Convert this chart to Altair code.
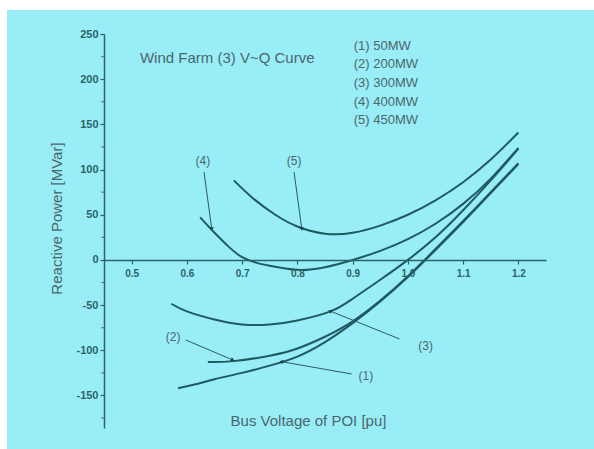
import altair as alt
import pandas as pd

# ---- curve data (bus voltage pu, reactive power MVar) ----
s1_v = [0.584, 0.62, 0.65, 0.70, 0.75, 0.80, 0.85, 0.90, 0.95, 1.00, 1.05, 1.10, 1.15, 1.20]
s1_q = [-142, -137, -132, -125, -117, -107, -91, -70, -46, -19, 11, 42, 74, 106]
s2_v = [0.638, 0.684, 0.75, 0.80, 0.85, 0.90, 0.95, 1.00, 1.05, 1.10, 1.15, 1.20]
s2_q = [-113, -112, -106, -98, -85, -68, -45, -18, 12, 43, 75, 107]
s3_v = [0.572, 0.60, 0.65, 0.70, 0.75, 0.80, 0.86, 0.90, 0.95, 1.00, 1.05, 1.10, 1.15, 1.20]
s3_q = [-48.5, -57, -66, -71.5, -71.5, -67, -57, -43, -22, 0, 25, 55, 88, 123]
s4_v = [0.624, 0.65, 0.675, 0.70, 0.725, 0.75, 0.80, 0.85, 0.90, 0.95, 1.00, 1.05, 1.10, 1.15, 1.20]
s4_q = [47, 30, 15, 3, -3, -6.5, -11, -8, 0, 10, 23, 40, 62, 90, 124]
s5_v = [0.685, 0.72, 0.76, 0.80, 0.85, 0.90, 0.95, 1.00, 1.05, 1.10, 1.15, 1.20]
s5_q = [88, 68, 50, 37, 29, 30, 38, 50, 66, 86, 111, 141]

# ---- text ----
title_text = ["Wind Farm (3) V~Q Curve"]
title_x = [0.515]
title_y = [223.4]
leg_text = ["(1) 50MW", "(2) 200MW", "(3) 300MW", "(4) 400MW", "(5) 450MW"]
leg_x = [0.902] * 5
leg_y = [236.7, 216.3, 195.8, 175.3, 154.8]
lab_text = ["(1)", "(2)", "(3)", "(4)", "(5)"]
lab_x = [0.924, 0.575, 1.032, 0.629, 0.794]
lab_y = [-128.4, -85.3, -95.3, 109.5, 109.5]
lead_x = [0.898, 0.598, 0.985, 0.631, 0.794]
lead_y = [-126.2, -88.6, -87.5, 97.3, 97.3]
lead_x2 = [0.771, 0.683, 0.859, 0.645, 0.808]
lead_y2 = [-112.6, -110.7, -56.5, 34.2, 34.2]
arrow_ang = [280, 113, 292, 172, 172]

x_ticks = [round(0.5 + 0.05 * i, 2) for i in range(15)]
y_major = [-150, -100, -50, 0, 50, 100, 150, 200, 250]
y_minor = [-175, -125, -75, -25, 25, 75, 125, 175, 225]

LINE = "#1f5a61"
AX = "#2b6369"
TXT = "#4b676c"
BG = "#99edf7"
FONT = "Liberation Sans"

rows = []
for name, vs, qs in [("(1)", s1_v, s1_q), ("(2)", s2_v, s2_q), ("(3)", s3_v, s3_q),
                     ("(4)", s4_v, s4_q), ("(5)", s5_v, s5_q)]:
    for v, q in zip(vs, qs):
        rows.append({"series": name, "v": v, "q": q})
curves = pd.DataFrame(rows)

W, H = 442, 394
xs = alt.Scale(domain=[0.45, 1.25], nice=False, zero=False)
ys = alt.Scale(domain=[-186, 250], nice=False, zero=False)

x_major = "abs(datum.value*10 - round(datum.value*10)) < 0.001"
x_axis = alt.Axis(
    orient="bottom", offset=-168, values=x_ticks, grid=False, zindex=1,
    labelExpr=f"{x_major} ? format(datum.value, '.1f') : ''",
    tickSize={"condition": {"test": x_major, "value": 4}, "value": 2},
    labelFontSize=10, labelFont=FONT, labelColor=AX, labelFontWeight="bold", labelPadding=4,
    domainColor=AX, tickColor=AX, domainWidth=1.5, tickWidth=1.2,
    title="Bus Voltage of POI [pu]", titleX=204, titleY=160, titleFont=FONT,
    titleFontSize=15, titleFontWeight="normal", titleColor=TXT,
    titleBaseline="middle", titleAlign="center",
)
y_axis = alt.Axis(
    values=y_major, grid=False, zindex=1, tickSize=4,
    labelExpr="replace(datum.label, '\u2212', '-')",
    labelFontSize=11, labelFont=FONT, labelColor=AX, labelFontWeight="bold", labelPadding=2,
    domainColor=AX, tickColor=AX, domainWidth=1.5, tickWidth=1.2,
    title="Reactive Power [MVar]", titleX=-48, titleY=184, titleAngle=270,
    titleFont=FONT, titleFontSize=15, titleFontWeight="normal", titleColor=TXT,
    titleBaseline="middle", titleAlign="center",
)

bg = alt.Chart(pd.DataFrame({"a": [0]})).mark_rect(fill=BG).encode(
    x=alt.value(-97), x2=alt.value(490), y=alt.value(-24), y2=alt.value(415)
)

lines = alt.Chart(curves).mark_line(color=LINE, strokeWidth=2, interpolate="natural").encode(
    x=alt.X("v:Q", scale=xs, axis=x_axis),
    y=alt.Y("q:Q", scale=ys, axis=y_axis),
    detail="series:N",
)

minor = alt.Chart(pd.DataFrame({"y": y_minor})).mark_tick(
    color=AX, size=3, thickness=1.2, orient="horizontal"
).encode(x=alt.value(-1.5), y=alt.Y("y:Q", scale=ys))

lead_df = pd.DataFrame({"x": lead_x, "y": lead_y, "x2": lead_x2, "y2": lead_y2, "ang": arrow_ang})
leaders = alt.Chart(lead_df).mark_rule(color="#2f5a60", strokeWidth=1).encode(
    x=alt.X("x:Q", scale=xs), y=alt.Y("y:Q", scale=ys), x2="x2:Q", y2="y2:Q"
)
arrows = alt.Chart(lead_df).mark_point(shape="triangle-up", filled=True, size=18,
                                       color="#1a3f44", opacity=1).encode(
    x=alt.X("x2:Q", scale=xs), y=alt.Y("y2:Q", scale=ys),
    angle=alt.Angle("ang:Q", scale=None),
)

lab_df = pd.DataFrame({"t": lab_text, "x": lab_x, "y": lab_y})
labels = alt.Chart(lab_df).mark_text(font=FONT, fontSize=12, color=TXT, align="center",
                                     baseline="middle").encode(
    x=alt.X("x:Q", scale=xs), y=alt.Y("y:Q", scale=ys), text="t:N"
)

leg_df = pd.DataFrame({"t": leg_text, "x": leg_x, "y": leg_y})
legend = alt.Chart(leg_df).mark_text(font=FONT, fontSize=13, color=TXT, align="left",
                                     baseline="middle").encode(
    x=alt.X("x:Q", scale=xs), y=alt.Y("y:Q", scale=ys), text="t:N"
)

ttl_df = pd.DataFrame({"t": title_text, "x": title_x, "y": title_y})
title = alt.Chart(ttl_df).mark_text(font=FONT, fontSize=15, color=TXT, align="left",
                                    baseline="middle").encode(
    x=alt.X("x:Q", scale=xs), y=alt.Y("y:Q", scale=ys), text="t:N"
)

chart = alt.layer(bg, lines, minor, leaders, arrows, labels, legend, title).properties(
    width=W, height=H,
    autosize=alt.AutoSizeParams(type="none"),
    padding={"left": 104, "top": 34, "right": 48, "bottom": 21},
    background="white",
).configure_view(stroke=None)

chart.save("out.html", embed_options={"renderer": "svg", "actions": False})
